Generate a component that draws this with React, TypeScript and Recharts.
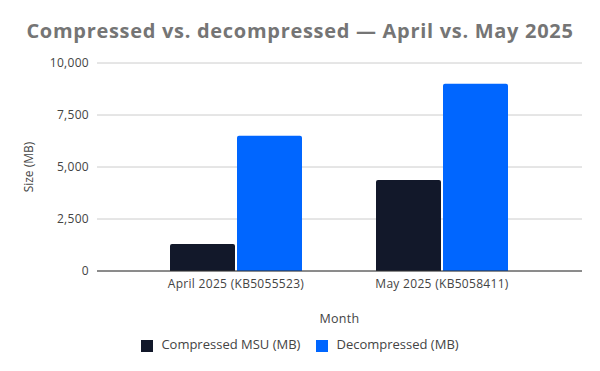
import { BarChart, Bar, XAxis, YAxis, CartesianGrid, Legend } from "recharts";

const months = ["April 2025 (KB5055523)", "May 2025 (KB5058411)"];
const compressedMb = [1300, 4380];
const decompressedMb = [6500, 9000];
const yTicks = [0, 2500, 5000, 7500, 10000];

const COMPRESSED_COLOR = "#12182a";
const DECOMPRESSED_COLOR = "#0066ff";
const FONT = "'Open Sans', sans-serif";
const TEXT_COLOR = "#444444";

const data = months.map((month, i) => ({
  month,
  compressed: compressedMb[i],
  decompressed: decompressedMb[i],
}));

export default function App() {
  return (
    <div style={{ position: "absolute", left: 0, top: 0, width: 600, height: 371, background: "#fff", fontFamily: FONT }}>
      <div
        style={{
          position: "absolute",
          top: 18,
          left: 0,
          width: 600,
          textAlign: "center",
          fontSize: 20,
          fontWeight: 700,
          color: "#757575",
          lineHeight: "26px",
          letterSpacing: 0.7,
        }}
      >
        Compressed vs. decompressed — April vs. May 2025
      </div>
      <BarChart
        width={600}
        height={371}
        data={data}
        margin={{ top: 63, right: 18, bottom: 6, left: 0 }}
        barGap={2}
        barCategoryGap={37}
      >
        <CartesianGrid vertical={false} stroke="#cccccc" />
        <XAxis
          dataKey="month"
          height={58}
          padding={{ left: 36, right: 37 }}
          tickLine={false}
          axisLine={{ stroke: "#333333" }}
          tick={{ fontSize: 12, fill: TEXT_COLOR, fontFamily: FONT, letterSpacing: 0.3 }}
          label={{ value: "Month", position: "insideBottom", offset: 6, fontSize: 12.5, fill: TEXT_COLOR, fontFamily: FONT, letterSpacing: 0.3 }}
        />
        <YAxis
          width={97}
          domain={[0, 10000]}
          ticks={yTicks}
          tickFormatter={(v: number) => v.toLocaleString("en-US")}
          tickLine={false}
          axisLine={false}
          tick={{ fontSize: 12, fill: TEXT_COLOR, fontFamily: FONT, letterSpacing: 0.3 }}
          label={{ value: "Size (MB)", angle: -90, position: "insideLeft", offset: 29, fontSize: 12, fill: TEXT_COLOR, fontFamily: FONT, style: { textAnchor: "middle" } }}
        />
        <Legend
          verticalAlign="bottom"
          height={30}
          iconType="square"
          iconSize={12}
          wrapperStyle={{ fontSize: 13, fontFamily: FONT, paddingTop: 6, left: 8, width: 600 }}
          formatter={(value: string) => (
            <span style={{ color: TEXT_COLOR, marginLeft: 4, marginRight: 6 }}>{value}</span>
          )}
        />
        <Bar dataKey="compressed" name="Compressed MSU (MB)" fill={COMPRESSED_COLOR} radius={[2, 2, 0, 0]} isAnimationActive={false} />
        <Bar dataKey="decompressed" name="Decompressed (MB)" fill={DECOMPRESSED_COLOR} radius={[2, 2, 0, 0]} isAnimationActive={false} />
      </BarChart>
    </div>
  );
}
